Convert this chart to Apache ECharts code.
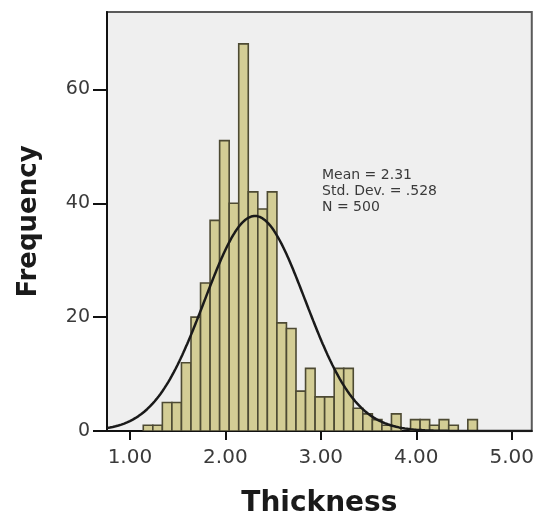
<!DOCTYPE html>
<html>
<head>
<meta charset="utf-8">
<script src="https://cdn.jsdelivr.net/npm/echarts@6/dist/echarts.min.js"></script>
<style>
  html, body { margin: 0; padding: 0; background: #ffffff; }
  #chart { width: 537px; height: 523px; }
</style>
</head>
<body>
<div id="chart"></div>
<script>
// Histogram of Thickness (bin width 0.10) with fitted normal curve
const binLow = [1.14, 1.24, 1.34, 1.44, 1.54, 1.64, 1.74, 1.84, 1.94, 2.04,
                2.14, 2.24, 2.34, 2.44, 2.54, 2.64, 2.74, 2.84, 2.94, 3.04,
                3.14, 3.24, 3.34, 3.44, 3.54, 3.64, 3.74, 3.84, 3.94, 4.04,
                4.14, 4.24, 4.34, 4.44, 4.54];
const counts = [1, 1, 5, 5, 12, 20, 26, 37, 51, 40,
                68, 42, 39, 42, 19, 18, 7, 11, 6, 6,
                11, 11, 4, 3, 2, 1, 3, 0, 2, 2,
                1, 2, 1, 0, 2];
const binWidth = 0.1;

// Summary statistics
const mean = 2.31;
const stdDev = 0.528;
const n = 500;

// Axis ticks
const xTicks = [1, 2, 3, 4, 5];
const yTicks = [0, 20, 40, 60];
const xMin = 0.76, xMax = 5.21;
const yMax = 73.6;

const barData = binLow
  .map((lo, i) => [lo, lo + binWidth, counts[i]])
  .filter(d => d[2] > 0);

// Normal density scaled to counts per bin
const curve = [];
for (let i = 0; i <= 445; i++) {
  const x = xMin + (xMax - xMin) * i / 445;
  const z = (x - mean) / stdDev;
  const y = n * binWidth * Math.exp(-0.5 * z * z) / (stdDev * Math.sqrt(2 * Math.PI));
  curve.push([x, y]);
}

const font = 'DejaVu Sans';
const chart = echarts.init(document.getElementById('chart'), null, { renderer: 'canvas' });

chart.setOption({
  animation: false,
  backgroundColor: '#ffffff',
  grid: {
    left: 107, top: 12, right: 4, bottom: 88,
    show: true,
    backgroundColor: '#efefef',
    borderColor: '#5a5a5a',
    borderWidth: 2
  },
  xAxis: {
    type: 'value',
    min: xMin,
    max: xMax,
    name: 'Thickness',
    nameLocation: 'middle',
    nameGap: 59,
    nameTextStyle: { fontFamily: font, fontWeight: 'bold', fontSize: 28, color: '#1a1a1a' },
    axisLine: { show: true, onZero: false, lineStyle: { color: '#111', width: 2 } },
    axisTick: { show: true, customValues: xTicks, length: 9, lineStyle: { color: '#111', width: 2 } },
    axisLabel: {
      customValues: xTicks,
      margin: 17,
      fontFamily: font,
      fontSize: 20,
      color: '#3a3a3a',
      formatter: v => v.toFixed(2)
    },
    splitLine: { show: false }
  },
  yAxis: {
    type: 'value',
    min: 0,
    max: yMax,
    name: 'Frequency',
    nameLocation: 'middle',
    nameGap: 65,
    nameTextStyle: { fontFamily: font, fontWeight: 'bold', fontSize: 26, color: '#1a1a1a' },
    axisLine: { show: true, lineStyle: { color: '#111', width: 2 } },
    axisTick: { show: true, customValues: yTicks, length: 14, lineStyle: { color: '#111', width: 2 } },
    axisLabel: {
      customValues: yTicks,
      margin: 17,
      fontFamily: font,
      fontSize: 19,
      color: '#3a3a3a'
    },
    splitLine: { show: false }
  },
  graphic: [{
    type: 'text',
    left: 322,
    top: 167,
    z: 10,
    style: {
      text: 'Mean = ' + mean.toFixed(2) + '\nStd. Dev. = .' + Math.round(stdDev * 1000) + '\nN = ' + n,
      fontFamily: font,
      fontSize: 14,
      lineHeight: 16,
      fill: '#3a3a3a'
    }
  }],
  series: [{
    type: 'custom',
    data: barData,
    encode: { x: [0, 1], y: 2 },
    clip: true,
    z: 2,
    renderItem: (params, api) => {
      const p0 = api.coord([api.value(0), 0]);
      const p1 = api.coord([api.value(1), api.value(2)]);
      return {
        type: 'rect',
        shape: { x: p0[0], y: p1[1], width: p1[0] - p0[0], height: p0[1] - p1[1] },
        style: { fill: '#d3cd95', stroke: '#4d4a33', lineWidth: 1.6 }
      };
    }
  }, {
    type: 'line',
    data: curve,
    showSymbol: false,
    smooth: false,
    z: 3,
    lineStyle: { color: '#1a1a1a', width: 2.5 }
  }]
});
</script>
</body>
</html>
